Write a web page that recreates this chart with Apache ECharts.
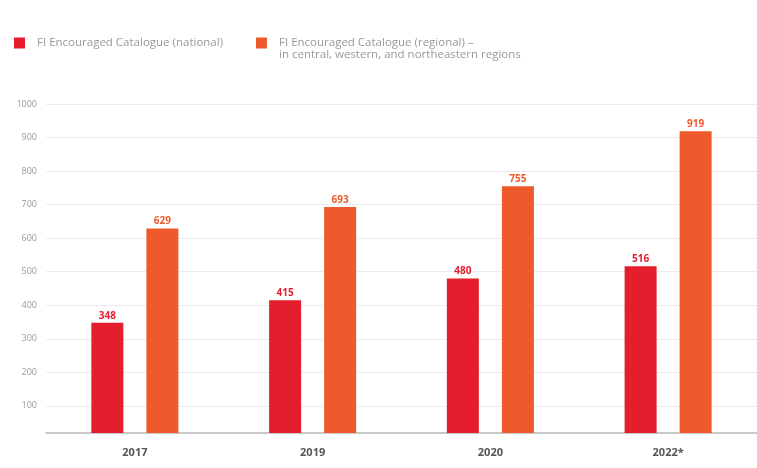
<!DOCTYPE html>
<html>
<head>
<meta charset="utf-8">
<script src="https://cdn.jsdelivr.net/npm/echarts@6/dist/echarts.min.js"></script>
<style>html,body{margin:0;padding:0;background:#fff}#c{width:757px;height:468px}</style>
</head>
<body>
<div id="c"></div>
<script>
const categories = ['2017', '2019', '2020', '2022*'];
const nationalValues = [348, 415, 480, 516];
const regionalValues = [629, 693, 755, 919];
const seriesNames = ['FI Encouraged Catalogue (national)', 'FI Encouraged Catalogue (regional) –\nin central, western, and northeastern regions'];

const RED = '#e41e2c';
const ORANGE = '#ee5a2b';
const legendText = {color: '#999', fontSize: 11.5, fontFamily: 'Open Sans', padding: [0, 0, 0, 7]};

const chart = echarts.init(document.getElementById('c'), null, {renderer: 'canvas'});
chart.setOption({
  animation: false,
  backgroundColor: '#fff',
  legend: [
    {
      left: 9, top: 32, itemWidth: 11, itemHeight: 11, icon: 'rect',
      textStyle: legendText, data: [seriesNames[0]]
    },
    {
      left: 251, top: 32, itemWidth: 11, itemHeight: 11, icon: 'rect',
      textStyle: legendText, data: [seriesNames[1]],
      formatter: name => name.split('\n')[0]
    }
  ],
  graphic: [{
    type: 'text', left: 279, top: 49,
    style: {text: seriesNames[1].split('\n')[1], fill: '#999', font: '11.5px "Open Sans"'}
  }],
  grid: {left: 46, right: -5, top: 104, bottom: 35, containLabel: false},
  xAxis: {
    type: 'category', data: categories,
    axisLine: {lineStyle: {color: '#c8c8c8', width: 2}},
    axisTick: {show: false},
    axisLabel: {color: '#555', fontSize: 11, fontWeight: 'bold', fontFamily: 'Open Sans', margin: 14}
  },
  yAxis: {
    type: 'value', min: 19, max: 1000, splitNumber: 10,
    axisLine: {show: false}, axisTick: {show: false},
    axisLabel: {color: '#999', fontSize: 9, fontFamily: 'Open Sans', margin: 9, showMinLabel: false, formatter: v => String(v)},
    splitLine: {lineStyle: {color: '#ececec', width: 1}}
  },
  series: [
    {
      name: seriesNames[0], type: 'bar', data: nationalValues,
      barWidth: 32, barGap: '72%',
      itemStyle: {color: RED},
      label: {show: true, position: 'top', distance: 2, color: RED, fontSize: 10, fontWeight: 'bold', fontFamily: 'Open Sans'}
    },
    {
      name: seriesNames[1], type: 'bar', data: regionalValues,
      barWidth: 32, barGap: '72%',
      itemStyle: {color: ORANGE},
      label: {show: true, position: 'top', distance: 2, color: ORANGE, fontSize: 10, fontWeight: 'bold', fontFamily: 'Open Sans'}
    }
  ]
});
</script>
</body>
</html>
